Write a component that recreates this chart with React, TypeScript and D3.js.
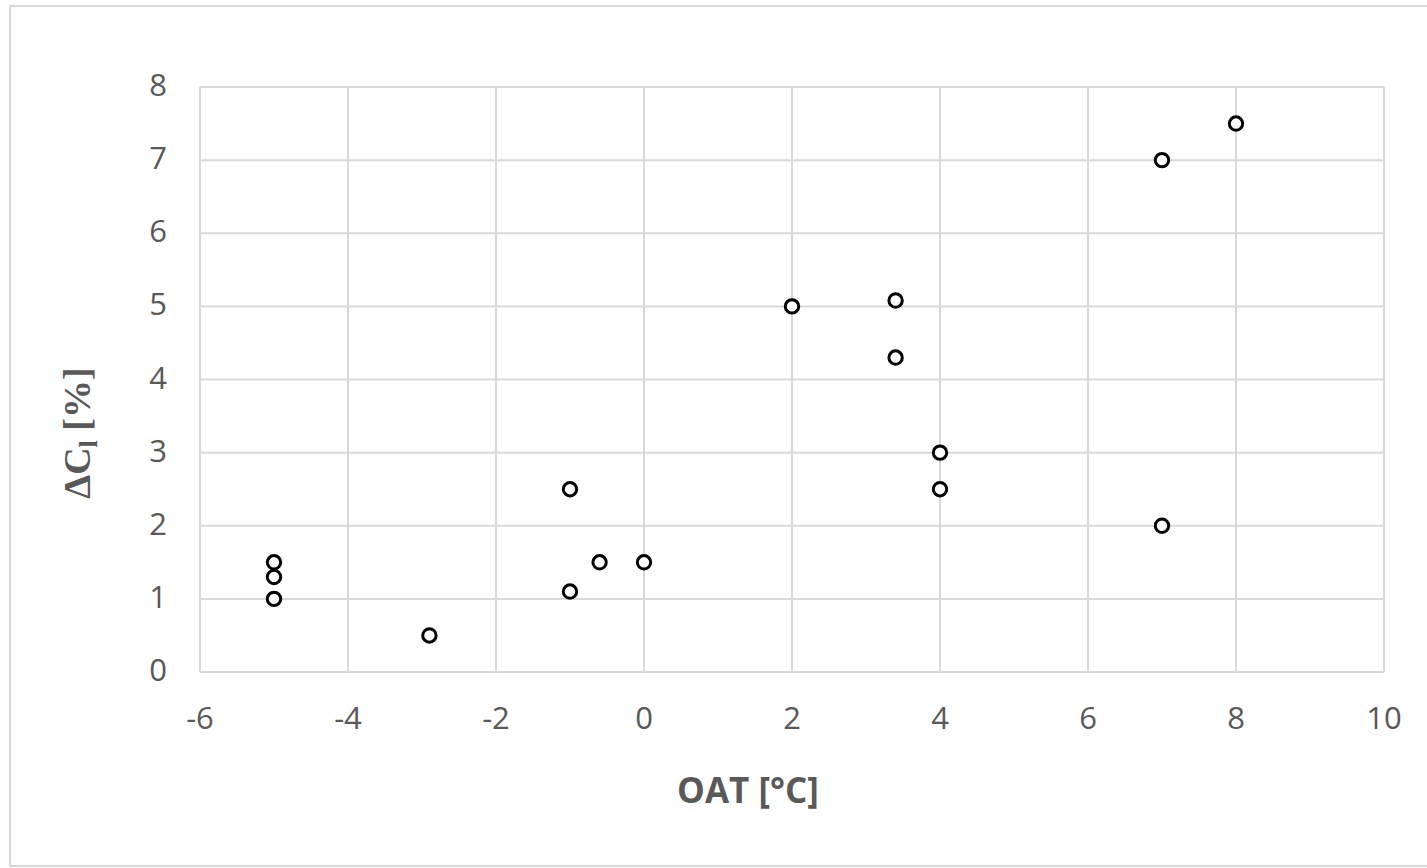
import React from "react";
import * as d3 from "d3";

const oat = [-5, -5, -5, -2.9, -1, -1, -0.6, 0, 2, 3.4, 3.4, 4, 4, 7, 7, 8];
const deltaC = [1.5, 1.3, 1.0, 0.5, 2.5, 1.1, 1.5, 1.5, 5.0, 5.08, 4.3, 3.0, 2.5, 7.0, 2.0, 7.5];
const xTicks = [-6, -4, -2, 0, 2, 4, 6, 8, 10];
const yTicks = [0, 1, 2, 3, 4, 5, 6, 7, 8];

export default function App() {
  const W = 1427, H = 868;
  const x = d3.scaleLinear().domain([-6, 10]).range([200, 1384]);
  const y = d3.scaleLinear().domain([0, 8]).range([672, 87]);
  const grid = "#d9d9d9";
  const tickFont = "'Open Sans', 'Liberation Sans', sans-serif";
  return (
    <svg width={W} height={H} style={{ position: "absolute", left: 0, top: 0 }}>
      <rect x={0} y={0} width={W} height={H} fill="#fff" />
      <rect x={10} y={6} width={W + 10} height={H - 8} fill="none" stroke="#d9d9d9" strokeWidth={2} />
      {xTicks.map((t) => (
        <line key={"gx" + t} x1={x(t)} x2={x(t)} y1={y(8)} y2={y(0)} stroke={grid} strokeWidth={2} />
      ))}
      {yTicks.map((t) => (
        <line key={"gy" + t} x1={x(-6)} x2={x(10)} y1={y(t)} y2={y(t)} stroke={grid} strokeWidth={2} />
      ))}
      {xTicks.map((t) => (
        <text key={"tx" + t} x={x(t)} y={729} textAnchor="middle" fontFamily={tickFont} fontSize={31} fill="#595959">
          {t}
        </text>
      ))}
      {yTicks.map((t) => (
        <text key={"ty" + t} x={167} y={y(t) + 9} textAnchor="end" fontFamily={tickFont} fontSize={31} fill="#595959">
          {t}
        </text>
      ))}
      {oat.map((v, i) => (
        <circle key={"p" + i} cx={x(v)} cy={y(deltaC[i])} r={6.7} fill="#fff" stroke="#000" strokeWidth={3} />
      ))}
      <text x={748} y={803} textAnchor="middle" fontFamily={tickFont} fontWeight="bold" fontSize={35} fill="#595959">
        OAT [°C]
      </text>
      <text
        transform="translate(90,433) rotate(-90)"
        textAnchor="middle"
        fontFamily="'Liberation Serif', 'DejaVu Serif', serif"
        fontWeight="bold"
        fontSize={38}
        fill="#595959"
      >
        ΔC<tspan fontSize={26} dy={7}>l</tspan><tspan dy={-7}> [%]</tspan>
      </text>
    </svg>
  );
}
